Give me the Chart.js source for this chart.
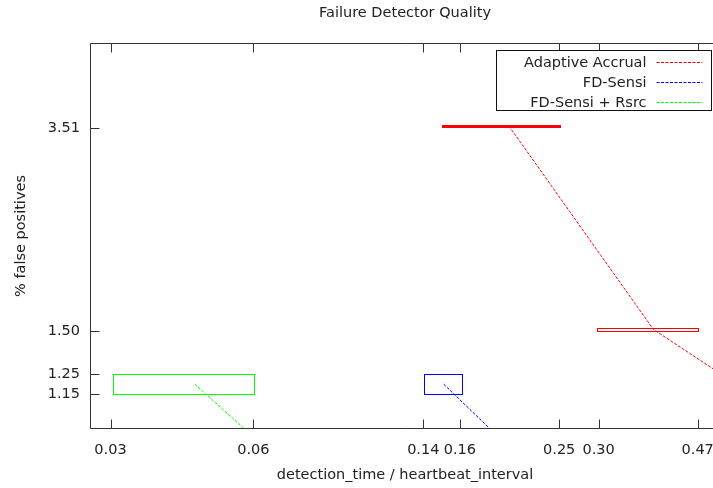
<!DOCTYPE html>
<html>
<head>
<meta charset="utf-8">
<script src="https://cdn.jsdelivr.net/npm/chart.js@4.4.1/dist/chart.umd.min.js"></script>
<style>
  html, body { margin: 0; padding: 0; background: #fff; overflow: hidden; }
  #wrap { width: 713px; height: 488px; overflow: hidden; position: relative; }
  #wrap canvas { display: block; }
</style>
</head>
<body>
<div id="wrap"><canvas id="c" width="730" height="488" style="width:730px;height:488px"></canvas></div>
<script>
// Series names and line colours
const seriesNames  = ['Adaptive Accrual', 'FD-Sensi', 'FD-Sensi + Rsrc'];
const seriesColors = ['#ff0000', '#0000ff', '#00ff00'];

// Adaptive Accrual: mean point and its extent box
const accrualX     = [0.1992, 0.384, 0.60];
const accrualXLow  = [0.1473, 0.2977, 0.53];
const accrualXHigh = [0.2511, 0.4703, 0.67];
const accrualY     = [3.545, 1.51, 1.15];
const accrualYLow  = [3.53, 1.50, 1.14];
const accrualYHigh = [3.56, 1.52, 1.16];

// FD-Sensi
const sensiX     = [0.1481, 0.30];
const sensiXLow  = [0.1355, 0.27];
const sensiXHigh = [0.1607, 0.33];
const sensiY     = [1.20, 0.64];
const sensiYLow  = [1.15, 0.60];
const sensiYHigh = [1.25, 0.68];

// FD-Sensi + Rsrc
const rsrcX     = [0.0478, 0.10];
const rsrcXLow  = [0.0329, 0.085];
const rsrcXHigh = [0.0626, 0.115];
const rsrcY     = [1.20, 0.65];
const rsrcYLow  = [1.15, 0.61];
const rsrcYHigh = [1.25, 0.69];

// Axis tick values (labels show two decimals)
const xTicks = [0.0326, 0.0624, 0.135, 0.1594, 0.2503, 0.2994, 0.4696];
const yTicks = [1.15, 1.25, 1.50, 3.51];

const FONT = { family: 'DejaVu Sans', size: 14.5 };
const TEXT = '#222';
const AXIS = '#333';
const DASH = [3, 1.5];

function pts(xs, ys) { return xs.map((x, i) => ({ x: x, y: ys[i] })); }

function makeSet(i, xs, ys, xl, xh, yl, yh) {
  return {
    label: seriesNames[i],
    data: pts(xs, ys),
    borderColor: seriesColors[i],
    borderWidth: 1,
    borderDash: DASH,
    pointRadius: 0,
    fill: false,
    tension: 0,
    boxes: { xl: xl, xh: xh, yl: yl, yh: yh }
  };
}

// Rectangles showing each point's spread in x and y
const errorBoxes = {
  id: 'errorBoxes',
  afterDatasetsDraw(chart) {
    const { ctx, chartArea: a, scales: { x, y } } = chart;
    ctx.save();
    ctx.beginPath();
    ctx.rect(a.left, a.top, a.right - a.left, a.bottom - a.top);
    ctx.clip();
    chart.data.datasets.forEach((ds, k) => {
      const b = ds.boxes;
      ctx.strokeStyle = seriesColors[k];
      ctx.fillStyle = seriesColors[k];
      ctx.lineWidth = 1;
      for (let i = 0; i < b.xl.length; i++) {
        const x0 = Math.round(x.getPixelForValue(b.xl[i])) + 0.5;
        const x1 = Math.round(x.getPixelForValue(b.xh[i])) + 0.5;
        const y0 = Math.round(y.getPixelForValue(b.yh[i])) + 0.5;
        const y1 = Math.round(y.getPixelForValue(b.yl[i])) + 0.5;
        if (y1 - y0 <= 2) {
          // too flat to show an inside: draw as a solid band
          ctx.fillRect(x0 - 0.5, y0 - 0.5, x1 - x0 + 1, y1 - y0 + 1);
        } else {
          ctx.strokeRect(x0, y0, x1 - x0, y1 - y0);
        }
      }
    });
    ctx.restore();
  }
};

// Plot border with inward tick marks (bottom, top, left)
const frame = {
  id: 'frame',
  afterDraw(chart) {
    const { ctx, chartArea: a, scales: { x, y } } = chart;
    const L = Math.round(a.left) + 0.5, R = Math.round(a.right) + 0.5;
    const T = Math.round(a.top) + 0.5, B = Math.round(a.bottom) - 0.5;
    ctx.save();
    ctx.strokeStyle = AXIS;
    ctx.lineWidth = 1;
    ctx.beginPath();
    ctx.rect(L, T, R - L, B - T);
    x.ticks.forEach(t => {
      const px = Math.round(x.getPixelForValue(t.value)) + 0.5;
      ctx.moveTo(px, B); ctx.lineTo(px, B - 9);
      ctx.moveTo(px, T); ctx.lineTo(px, T + 9);
    });
    y.ticks.forEach(t => {
      const py = Math.round(y.getPixelForValue(t.value)) + 0.5;
      ctx.moveTo(L, py); ctx.lineTo(L + 9, py);
    });
    ctx.stroke();
    ctx.restore();
  }
};

// Chart heading centred over the plot
const heading = {
  id: 'heading',
  afterDraw(chart) {
    const { ctx, chartArea: a } = chart;
    ctx.save();
    ctx.font = FONT.size + 'px "' + FONT.family + '"';
    ctx.fillStyle = TEXT;
    ctx.textAlign = 'center';
    ctx.textBaseline = 'middle';
    ctx.fillText('Failure Detector Quality', (a.left + a.right) / 2, 13.5);
    ctx.restore();
  }
};

// Boxed key in the upper right: label, then a dashed sample line
const keyBox = {
  id: 'keyBox',
  afterDraw(chart) {
    const { ctx, chartArea: a } = chart;
    const right = Math.round(a.right) - 8.5, top = Math.round(a.top) + 7.5;
    const left = right - 215, rowH = 20;
    const sets = chart.data.datasets;
    ctx.save();
    ctx.fillStyle = '#fff';
    ctx.fillRect(left, top, right - left, rowH * sets.length);
    ctx.strokeStyle = '#111';
    ctx.lineWidth = 1;
    ctx.strokeRect(left, top, right - left, rowH * sets.length);
    ctx.font = FONT.size + 'px "' + FONT.family + '"';
    ctx.textAlign = 'right';
    ctx.textBaseline = 'middle';
    sets.forEach((ds, i) => {
      const cy = top + 12.5 + i * rowH;
      ctx.fillStyle = TEXT;
      ctx.fillText(ds.label, right - 65, cy + 0.5);
      ctx.strokeStyle = seriesColors[i];
      ctx.lineWidth = 1;
      ctx.setLineDash(DASH);
      ctx.beginPath();
      ctx.moveTo(right - 55, Math.round(cy) - 0.5);
      ctx.lineTo(right - 9, Math.round(cy) - 0.5);
      ctx.stroke();
      ctx.setLineDash([]);
    });
    ctx.restore();
  }
};

new Chart(document.getElementById('c'), {
  type: 'line',
  data: {
    datasets: [
      makeSet(0, accrualX, accrualY, accrualXLow, accrualXHigh, accrualYLow, accrualYHigh),
      makeSet(1, sensiX, sensiY, sensiXLow, sensiXHigh, sensiYLow, sensiYHigh),
      makeSet(2, rsrcX, rsrcY, rsrcXLow, rsrcXHigh, rsrcYLow, rsrcYHigh)
    ]
  },
  options: {
    responsive: false,
    animation: false,
    devicePixelRatio: 1,
    layout: { padding: { top: 43, right: 10, left: 0, bottom: 0 } },
    plugins: { legend: { display: false }, title: { display: false }, tooltip: { enabled: false } },
    scales: {
      x: {
        type: 'logarithmic',
        min: 0.0297,
        max: 0.5197,
        afterBuildTicks: s => { s.ticks = xTicks.map(v => ({ value: v })); },
        afterFit: s => { s.height = 59; },
        grid: { display: false, drawTicks: false },
        border: { display: false },
        ticks: {
          autoSkip: false, maxRotation: 0, minRotation: 0, padding: 13,
          font: FONT, color: TEXT,
          callback: v => Number(v).toFixed(2)
        },
        title: {
          display: true, text: 'detection_time / heartbeat_interval',
          font: FONT, color: TEXT, padding: { top: 0, bottom: 4 }
        }
      },
      y: {
        type: 'logarithmic',
        min: 0.9941,
        max: 5.0225,
        afterBuildTicks: s => { s.ticks = yTicks.map(v => ({ value: v })); },
        afterFit: s => { s.width = 90; },
        grid: { display: false, drawTicks: false },
        border: { display: false },
        ticks: {
          autoSkip: false, padding: 10,
          font: FONT, color: TEXT,
          callback: v => Number(v).toFixed(2)
        },
        title: {
          display: true, text: '% false positives',
          font: FONT, color: TEXT, padding: { top: 13, bottom: 0 }
        }
      }
    }
  },
  plugins: [errorBoxes, frame, heading, keyBox]
});
</script>
</body>
</html>
